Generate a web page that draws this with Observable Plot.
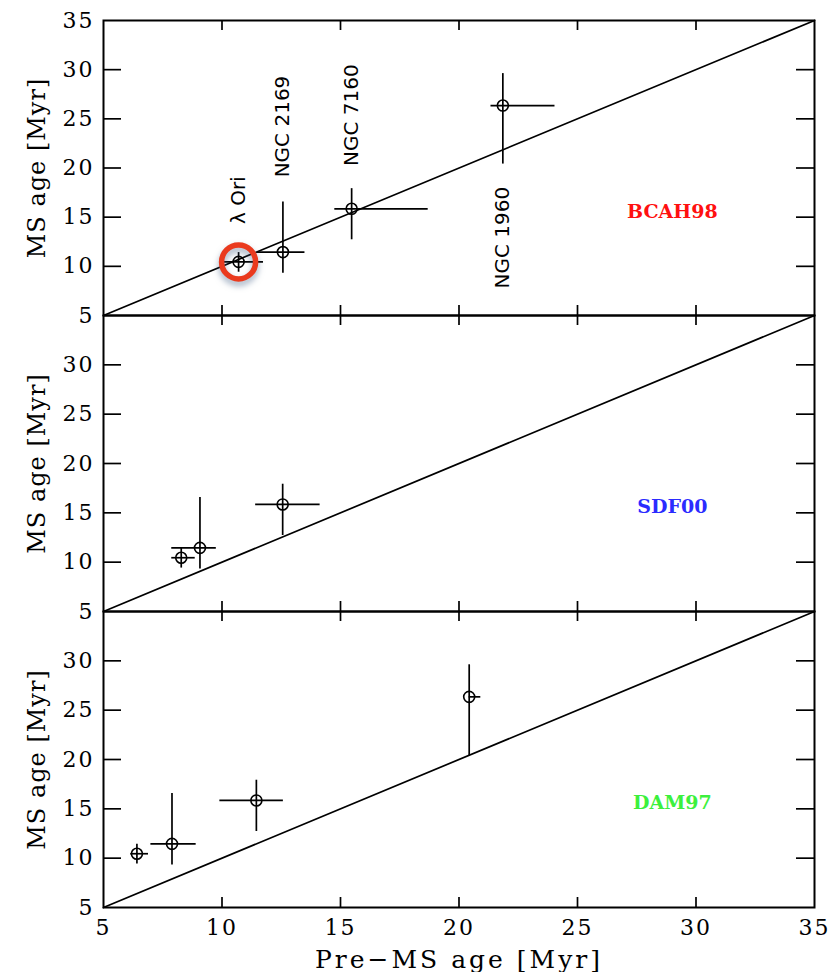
<!DOCTYPE html>
<html>
<head>
<meta charset="utf-8">
<script src="https://cdn.jsdelivr.net/npm/d3@7"></script>
<script src="https://cdn.jsdelivr.net/npm/@observablehq/plot@0.6"></script>
<style>
  html, body { margin: 0; padding: 0; background: #fff; }
  #chart { width: 839px; }
  #chart svg { display: block; }
  /* wide, evenly spaced axis numerals */
  #chart [aria-label^="x-axis"] text,
  #chart [aria-label^="y-axis"] text { letter-spacing: 2px; }
  #chart g[aria-description="y-title"] text { letter-spacing: 1px; }
  #chart g[aria-description="x-title"] text { letter-spacing: 3px; }
  #chart g[aria-description="highlight"] {
    filter: drop-shadow(0px 4px 3px rgba(55, 85, 125, 0.5));
  }
</style>
</head>
<body>
<div id="chart"></div>
<script>
// Clusters and their main-sequence (nuclear) ages, Myr
const clusters = ["λ Ori", "NGC 2169", "NGC 7160", "NGC 1960"];
const msAge   = [10.45, 11.45, 15.85, 26.35];
const msAgeLo = [9.4, 9.3, 12.7, 20.4];
const msAgeHi = [11.4, 16.55, 17.9, 29.6];

// Pre-main-sequence ages for each set of evolutionary models, Myr
const models = ["BCAH98", "SDF00", "DAM97"];
const bcah98Age = [10.7, 12.57, 15.47, 21.85];
const bcah98Lo  = [10.05, 11.5, 14.76, 21.35];
const bcah98Hi  = [11.75, 13.5, 18.7, 24.05];
const sdf00Age  = [8.28, 9.07, 12.56, null];
const sdf00Lo   = [7.88, 7.88, 11.42, null];
const sdf00Hi   = [8.87, 9.76, 14.14, null];
const dam97Age  = [6.41, 7.89, 11.45, 20.43];
const dam97Lo   = [6.15, 7.0, 9.91, 20.43];
const dam97Hi   = [6.9, 8.91, 12.59, 20.92];

// Where each cluster name starts (MS age axis), in the top panel
const clusterLabelY = [14.3, 19.05, 20.2, 7.75];
// Model name anchors (pre-MS age, MS age)
const modelLabelX = [29, 29, 29];
const modelLabelY = [15.5, 15.6, 15.6];

// Axis ticks
const tickMarks = [10, 15, 20, 25, 30];
const xTickLabels = [5, 10, 15, 20, 25, 30, 35];
const yTickLabelsTop = [5, 10, 15, 20, 25, 30, 35];
const yTickLabelsLower = [5, 10, 15, 20, 25, 30];
const oneToOne = [5, 35];

const highlighted = "λ Ori";
const modelColors = {BCAH98: "#ff1010", SDF00: "#2b2bff", DAM97: "#3cf03c"};

const W = 839, ML = 103, MR = 25;
const innerW = W - ML - MR;
const ink = "#000";
const lineW = 1.7;

function panel(model, preAge, preLo, preHi, k) {
  const isTop = k === 0, isBottom = k === models.length - 1;
  const marginTop = isTop ? 20 : 0;
  const marginBottom = isBottom ? 65 : 0;
  const innerH = isTop ? 295 : 296;
  const height = marginTop + innerH + marginBottom;

  const rows = clusters.map((name, i) => ({
    name, x: preAge[i], xLo: preLo[i], xHi: preHi[i],
    y: msAge[i], yLo: msAgeLo[i], yHi: msAgeHi[i], labelY: clusterLabelY[i]
  })).filter(d => d.x != null);

  const marks = [
    Plot.frame({stroke: ink, strokeWidth: 2}),
    Plot.line(oneToOne, {x: d => d, y: d => d, stroke: ink, strokeWidth: lineW}),
    // inward ticks on all four sides
    Plot.tickY(tickMarks, {y: d => d, insetRight: innerW - 18, stroke: ink, strokeWidth: lineW}),
    Plot.tickY(tickMarks, {y: d => d, insetLeft: innerW - 18, stroke: ink, strokeWidth: lineW}),
    Plot.tickX(tickMarks, {x: d => d, insetTop: innerH - 10, stroke: ink, strokeWidth: lineW}),
    Plot.tickX(tickMarks, {x: d => d, insetBottom: innerH - 10, stroke: ink, strokeWidth: lineW}),
    // error bars
    Plot.ruleY(rows, {y: "y", x1: "xLo", x2: "xHi", stroke: ink, strokeWidth: lineW}),
    Plot.ruleX(rows, {x: "x", y1: "yLo", y2: "yHi", stroke: ink, strokeWidth: lineW}),
    Plot.dot(rows, {x: "x", y: "y", r: 5.5, stroke: ink, strokeWidth: 1.6, fill: "none"}),
    // model name
    Plot.text([model], {
      x: () => modelLabelX[k], y: () => modelLabelY[k], text: d => d,
      fill: modelColors[model], fontFamily: "'DejaVu Serif', serif",
      fontWeight: "bold", fontSize: 19
    }),
    // MS age title, centred on the panel
    Plot.text(["MS age [Myr]"], {
      frameAnchor: "left", textAnchor: "middle", lineAnchor: "middle",
      text: d => d, rotate: -90, dx: -66,
      fontFamily: "'DejaVu Serif', serif", fontSize: 24, ariaDescription: "y-title"
    })
  ];

  if (isTop) {
    marks.push(
      Plot.text(rows, {
        x: "x", y: "labelY", text: "name", rotate: -90, textAnchor: "start",
        fontFamily: "'DejaVu Sans', sans-serif", fontSize: 20, fill: ink
      }),
      Plot.dot(rows.filter(d => d.name === highlighted), {
        x: "x", y: "y", r: 17, stroke: "#ea3a1e", strokeWidth: 5.5, fill: "none",
        ariaDescription: "highlight"
      })
    );
  }
  if (isBottom) {
    marks.push(
      Plot.text(["Pre\u2212MS age [Myr]"], {
        frameAnchor: "bottom", textAnchor: "middle", lineAnchor: "middle",
        text: d => d, dy: 52,
        fontFamily: "'DejaVu Serif', serif", fontSize: 25, ariaDescription: "x-title"
      })
    );
  }

  return Plot.plot({
    width: W, height, marginLeft: ML, marginRight: MR, marginTop, marginBottom,
    x: {domain: [5, 35], axis: isBottom ? "bottom" : null, ticks: xTickLabels,
        tickSize: 0, tickPadding: 12, label: null},
    y: {domain: [5, 35], ticks: isTop ? yTickLabelsTop : yTickLabelsLower,
        tickSize: 0, tickPadding: 9, label: null},
    style: {
      background: "none", overflow: "visible", color: ink,
      fontFamily: "'DejaVu Serif', serif", fontSize: "22px"
    },
    marks
  });
}

const chart = document.getElementById("chart");
const series = [
  [bcah98Age, bcah98Lo, bcah98Hi],
  [sdf00Age, sdf00Lo, sdf00Hi],
  [dam97Age, dam97Lo, dam97Hi]
];
models.forEach((m, k) => chart.appendChild(panel(m, ...series[k], k)));
</script>
</body>
</html>
